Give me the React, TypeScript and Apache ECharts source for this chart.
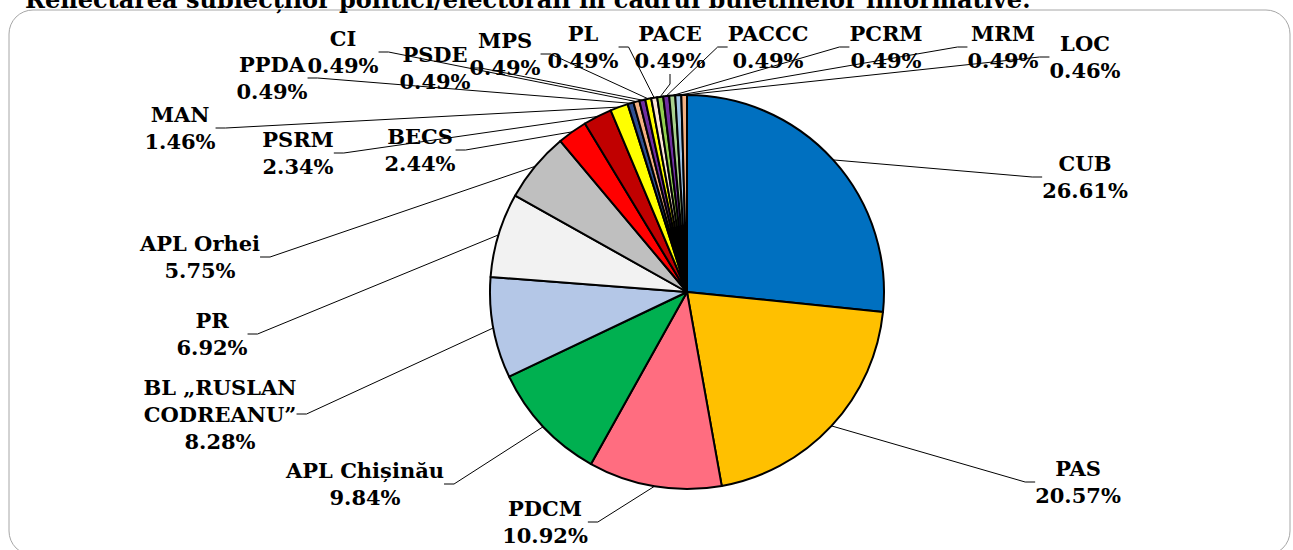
import React, { useEffect, useRef } from "react";
import * as echarts from "echarts";

const TITLE = "Reflectarea subiecților politici/electorali în cadrul buletinelor informative:";

const categories = [
  "CUB", "PAS", "PDCM", "APL Chișinău", "BL „RUSLAN\nCODREANU”", "PR", "APL Orhei",
  "BECS", "PSRM", "MAN", "PPDA", "CI", "PSDE", "MPS", "PL", "PACE", "PACCC", "PCRM", "MRM", "LOC",
];
const shares = [
  26.61, 20.57, 10.92, 9.84, 8.28, 6.92, 5.75,
  2.44, 2.34, 1.46, 0.49, 0.49, 0.49, 0.49, 0.49, 0.49, 0.49, 0.49, 0.49, 0.46,
];
const colors = [
  "#0070C0", "#FFC000", "#FF6D80", "#00B050", "#B4C7E7", "#F2F2F2", "#BFBFBF",
  "#FF0000", "#C00000", "#FFFF00", "#2F4F8F", "#F4B183", "#7030A0", "#FFFF00", "#FBE5D6",
  "#92D050", "#7030A0", "#A9D18E", "#9DC3E6", "#F4B183",
];
// label block centers (layout only)
const labelPos: [number, number][] = [
  [1085, 177], [1078, 482], [545, 522], [365, 484], [220, 414], [212, 334], [200, 257],
  [420, 150], [298, 153], [180, 128], [272, 78], [343, 52], [435, 68], [505, 54],
  [583, 47], [670, 47], [768, 47], [886, 47], [1003, 47], [1085, 57],
];

const FONT = "DejaVu Serif";

export default function App() {
  const ref = useRef<HTMLDivElement>(null);
  useEffect(() => {
    if (!ref.current) return;
    const chart = echarts.init(ref.current, null, { renderer: "svg" });
    chart.setOption({
      animation: false,
      backgroundColor: "#ffffff",
      textStyle: { fontFamily: FONT },
      graphic: [
        {
          type: "rect",
          shape: { x: 9, y: 10, width: 1281, height: 545, r: 24 },
          style: { fill: "none", stroke: "#A6A6A6", lineWidth: 1 },
          z: 0,
        },
        {
          type: "text",
          x: 25,
          y: 11,
          style: {
            text: TITLE,
            fontFamily: FONT,
            fontSize: 24,
            fontWeight: "bold",
            fill: "#000",
            textVerticalAlign: "bottom",
          },
        },
      ],
      series: [
        {
          type: "pie",
          center: [687, 292],
          radius: 197,
          startAngle: 90,
          clockwise: true,
          avoidLabelOverlap: false,
          minShowLabelAngle: 0,
          itemStyle: { borderColor: "#000", borderWidth: 2 },
          label: {
            show: true,
            position: "outside",
            color: "#000",
            fontFamily: FONT,
            fontWeight: "bold",
            fontSize: 21,
            lineHeight: 27,
            align: "center",
            formatter: (p: any) => `${p.name}\n${shares[p.dataIndex].toFixed(2)}%`,
          },
          labelLine: {
            show: true,
            length: 10,
            length2: 10,
            lineStyle: { color: "#000", width: 1 },
          },
          labelLayout: (params: any) => {
            const pos = labelPos[params.dataIndex];
            return { x: pos[0], y: pos[1], align: "center", verticalAlign: "middle" };
          },
          data: categories.map((name, i) => ({
            name,
            value: shares[i],
            itemStyle: { color: colors[i] },
          })),
        },
      ],
    });
    return () => chart.dispose();
  }, []);
  return (
    <div
      ref={ref}
      style={{ position: "absolute", left: 0, top: 0, width: 1293, height: 550 }}
    />
  );
}
